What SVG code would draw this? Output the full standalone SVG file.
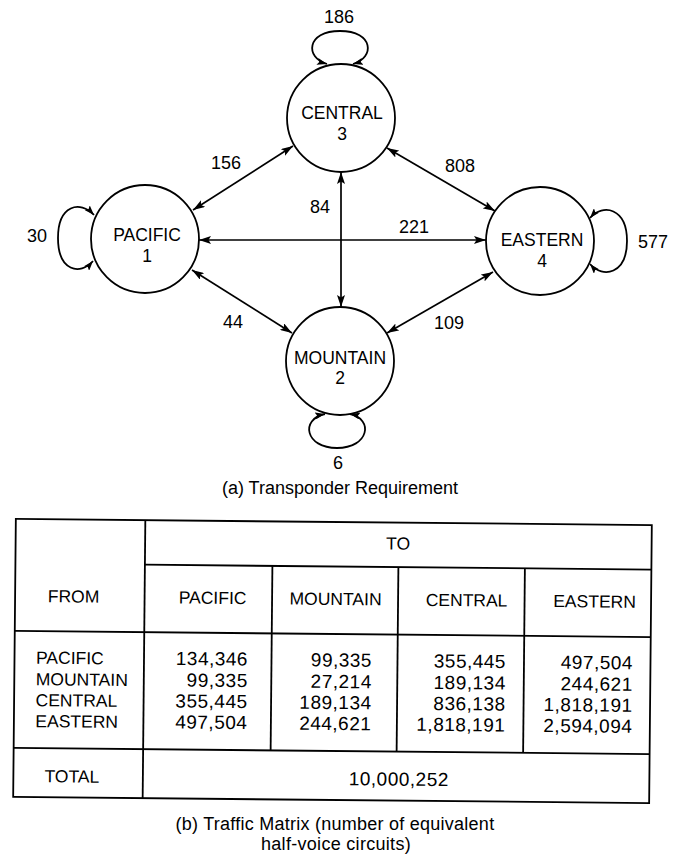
<svg xmlns="http://www.w3.org/2000/svg" width="674" height="856" viewBox="0 0 674 856">
<style>
text{font-family:"Liberation Sans",Arial,Helvetica,sans-serif;fill:#000}
.node circle{fill:#fff;stroke:#000;stroke-width:1.8}
.lbl{font-size:17.5px;text-anchor:middle}
.num{font-size:18px;text-anchor:middle}
.edge{fill:none;stroke:#000;stroke-width:1.7;marker-start:url(#ah);marker-end:url(#ah)}
.loop{fill:none;stroke:#000;stroke-width:1.8;marker-start:url(#ahs);marker-end:url(#ahs)}
.cap{font-size:18px;text-anchor:middle}
.tl{fill:none;stroke:#000;stroke-width:1.8}
.th{font-size:17.5px;text-anchor:middle}
.rl{font-size:17.5px;text-anchor:start}
.tn{font-size:19px;text-anchor:end;letter-spacing:0.5px}
</style>
<defs>
<marker id="ah" viewBox="0 0 12 8" refX="12" refY="4" markerWidth="12" markerHeight="8" markerUnits="userSpaceOnUse" orient="auto-start-reverse">
<path d="M0,0 L12,4 L0,8 L2.5,4 z" fill="#000"/>
</marker>
<marker id="ahs" viewBox="0 0 10 7" refX="10" refY="3.5" markerWidth="10" markerHeight="7" markerUnits="userSpaceOnUse" orient="auto-start-reverse">
<path d="M0,0 L10,3.5 L0,7 L2,3.5 z" fill="#000"/>
</marker>
</defs>

<g id="connectors">
<line class="edge" x1="193" y1="210" x2="293" y2="146"/>
<line class="edge" x1="387" y1="148" x2="495" y2="211"/>
<line class="edge" x1="341" y1="172" x2="341" y2="307"/>
<line class="edge" x1="199" y1="240" x2="486" y2="240"/>
<line class="edge" x1="192" y1="270" x2="292" y2="333"/>
<line class="edge" x1="493" y1="272" x2="387" y2="333"/>
<path class="loop" d="M327 64 C305 58 306 31 340 31 C374 31 375 58 353 64"/>
<path class="loop" d="M94 215 C80 200 58 205 58 238 C58 271 80 276 93 261"/>
<path class="loop" d="M590 218 C603 203 627 208 627 241 C627 274 603 279 590 264"/>
<path class="loop" d="M325 414 C300 419 305 448 337 448 C369 448 374 419 350 414"/>
<text class="num" x="339" y="22.5">186</text>
<text class="num" x="226" y="168.5">156</text>
<text class="num" x="460" y="171.5">808</text>
<text class="num" x="320" y="212.5">84</text>
<text class="num" x="414" y="232.5">221</text>
<text class="num" x="37" y="241.5">30</text>
<text class="num" x="653" y="247.5">577</text>
<text class="num" x="233" y="327.5">44</text>
<text class="num" x="449" y="328.5">109</text>
<text class="num" x="338" y="468.5">6</text>
</g>

<g id="node-central" class="node">
<circle cx="341" cy="118" r="54"/>
<text class="lbl" x="342" y="119">CENTRAL</text>
<text class="lbl" x="342" y="140">3</text>
</g>
<g id="node-pacific" class="node">
<circle cx="145" cy="239" r="54"/>
<text class="lbl" x="147" y="241">PACIFIC</text>
<text class="lbl" x="147" y="262">1</text>
</g>
<g id="node-eastern" class="node">
<circle cx="540" cy="241" r="54"/>
<text class="lbl" x="542" y="246">EASTERN</text>
<text class="lbl" x="542" y="267">4</text>
</g>
<g id="node-mountain" class="node">
<circle cx="340" cy="361" r="54"/>
<text class="lbl" x="340" y="364">MOUNTAIN</text>
<text class="lbl" x="340" y="384">2</text>
</g>

<text class="cap" x="340" y="494">(a) Transponder Requirement</text>

<g id="table" transform="rotate(0.55 333 660)">
<rect class="tl" x="14.5" y="522" width="636" height="278"/>
<line class="tl" x1="144" y1="522" x2="144" y2="800"/>
<line class="tl" x1="144" y1="566.5" x2="650.5" y2="566.5"/>
<line class="tl" x1="14.5" y1="634" x2="650.5" y2="634"/>
<line class="tl" x1="271.5" y1="566.5" x2="271.5" y2="751"/>
<line class="tl" x1="397.5" y1="566.5" x2="397.5" y2="751"/>
<line class="tl" x1="524" y1="566.5" x2="524" y2="751"/>
<line class="tl" x1="14.5" y1="751" x2="650.5" y2="751"/>
<text class="th" x="397" y="549">TO</text>
<text class="th" x="73" y="605">FROM</text>
<text class="th" x="212" y="605">PACIFIC</text>
<text class="th" x="335" y="605">MOUNTAIN</text>
<text class="th" x="466" y="605">CENTRAL</text>
<text class="th" x="594" y="605">EASTERN</text>
<text class="rl" x="36" y="666.5">PACIFIC</text>
<text class="rl" x="36" y="688">MOUNTAIN</text>
<text class="rl" x="36" y="709">CENTRAL</text>
<text class="rl" x="36" y="730">EASTERN</text>
<text class="tn" x="248" y="666.5">134,346</text>
<text class="tn" x="248" y="688">99,335</text>
<text class="tn" x="248" y="709">355,445</text>
<text class="tn" x="248" y="730">497,504</text>
<text class="tn" x="372" y="666.5">99,335</text>
<text class="tn" x="372" y="688">27,214</text>
<text class="tn" x="372" y="709">189,134</text>
<text class="tn" x="372" y="730">244,621</text>
<text class="tn" x="506" y="666.5">355,445</text>
<text class="tn" x="506" y="688">189,134</text>
<text class="tn" x="506" y="709">836,138</text>
<text class="tn" x="506" y="730">1,818,191</text>
<text class="tn" x="633" y="666.5">497,504</text>
<text class="tn" x="633" y="688">244,621</text>
<text class="tn" x="633" y="709">1,818,191</text>
<text class="tn" x="633" y="730">2,594,094</text>
<text class="th" x="73" y="785">TOTAL</text>
<text class="tn" x="450" y="785">10,000,252</text>
</g>

<text class="cap" x="335" y="830" letter-spacing="0.25">(b) Traffic Matrix (number of equivalent</text>
<text class="cap" x="336" y="850" letter-spacing="0.3">half-voice circuits)</text>
</svg>
